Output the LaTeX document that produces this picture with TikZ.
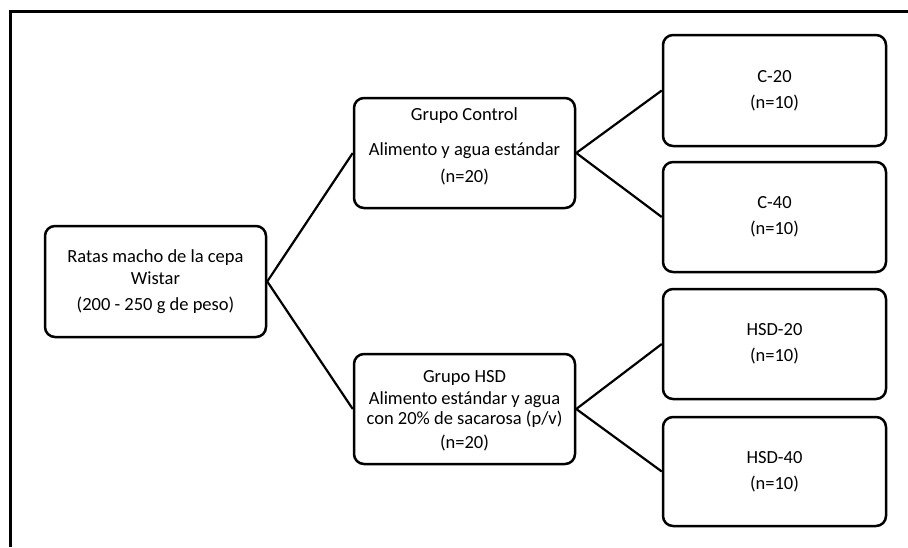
\documentclass[tikz,border=0pt]{standalone}
\usepackage{fontspec}
\setmainfont{Carlito}
\begin{document}
\begin{tikzpicture}[x=1pt,y=-1pt,
  txt/.style={align=center, inner sep=0pt, font=\fontsize{18.5}{22}\selectfont},
  box/.style={draw, line width=2.5pt, rounded corners=10pt, align=center,
    inner sep=2pt, font=\fontsize{18.5}{22}\selectfont},
  wide/.style={minimum width=221pt},
  wider/.style={minimum width=223pt},
  link/.style={line width=2.2pt},
  frame/.style={line width=3pt}]
\useasboundingbox (0,0) rectangle (908,547);
\coordinate (fa) at (10,547);
\coordinate (fb) at (10,11);
\coordinate (fc) at (908,11);
\draw[frame] (fa) -- (fb) -- (fc);
\node[box, wide, minimum height=111pt] (root) at (155.5,281.5)
  {Ratas macho de la cepa\\Wistar\\[4pt](200 - 250 g de peso)};
\node[box, wide, minimum height=110pt] (ctrl) at (464.5,153) {};
\node[txt] (ctrlt) at (464.5,146)
  {Grupo Control\\[13pt]Alimento y agua estándar\\[5pt](n=20)};
\node[box, wide, minimum height=110pt] (hsd) at (464.5,409) {};
\node[txt, font=\fontsize{18.5}{20}\selectfont] (hsdt) at (464.5,411)
  {Grupo HSD\\[2pt]Alimento estándar y agua\\con 20\% de sacarosa (p/v)\\[4pt](n=20)};
\node[box, wider, minimum height=111pt] (c20) at (774.5,90.5)
  {C-20\\[4pt](n=10)};
\node[box, wider, minimum height=110pt] (c40) at (774.5,217)
  {C-40\\[4pt](n=10)};
\node[box, wider, minimum height=110pt] (h20) at (774.5,344)
  {HSD-20\\[4pt](n=10)};
\node[box, wider, minimum height=109pt] (h40) at (774.5,471.5)
  {HSD-40\\[4pt](n=10)};
\draw[link] (ctrl.west) -- (root.east) -- (hsd.west);
\draw[link] (c20.west) -- (ctrl.east) -- (c40.west);
\draw[link] (h20.west) -- (hsd.east) -- (h40.west);
\end{tikzpicture}
\end{document}
